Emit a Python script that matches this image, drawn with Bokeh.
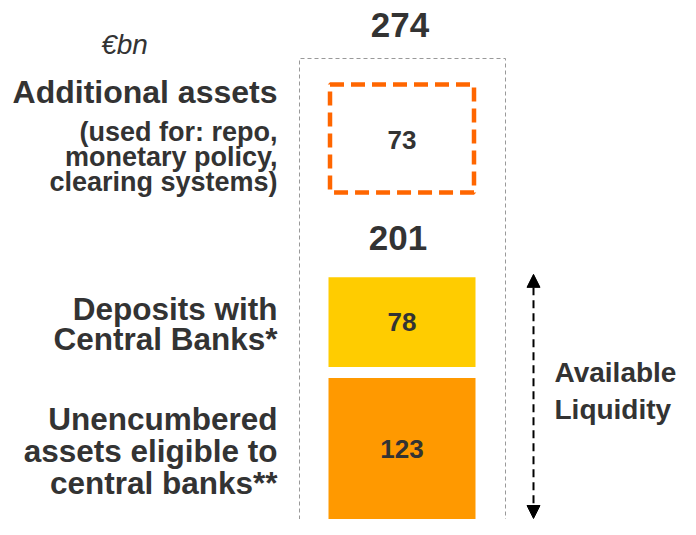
from bokeh.plotting import figure
from bokeh.models import Range1d, Arrow, NormalHead, ColumnDataSource
from bokeh.core.properties import value
from bokeh.embed import file_html
from bokeh.resources import INLINE

# ---- data (EUR bn) ----
segments = ["Unencumbered", "Deposits", "Additional"]
seg_values = [123, 78, 73]
seg_colors = ["#FF9900", "#FFCC00", None]
subtotal_available = 201
total = 274

unit_label = "€bn"
left_labels = [
    ["Additional assets"],
    ["(used for: repo,", "monetary policy,", "clearing systems)"],
    ["Deposits with", "Central Banks*"],
    ["Unencumbered", "assets eligible to", "central banks**"],
]
right_label = ["Available", "Liquidity"]

# ---- layout constants ----
W, H = 680, 519
K = 1.15            # px per EUR bn for liquidity bars
K_BOX = 1.48        # px per EUR bn for the dashed box
BASE = 0
GAP = 11
BAR_X = 401.5
BAR_W = 147
TXT = "#333333"
FONT = "Liberation Sans"

p = figure(width=W, height=H, output_backend="svg", toolbar_location=None,
           x_range=Range1d(0, W), y_range=Range1d(0, H),
           x_axis_type=None, y_axis_type=None, min_border=0)
p.grid.visible = False
p.outline_line_color = None
p.background_fill_color = "white"

def py(y):
    return H - y

# bars
b0 = BASE
t0 = b0 + seg_values[0] * K
b1 = t0 + GAP
t1 = b1 + seg_values[1] * K
src = ColumnDataSource(dict(x=[BAR_X, BAR_X], bottom=[b0, b1], top=[t0, t1],
                            color=seg_colors[:2]))
p.vbar(x="x", bottom="bottom", top="top", width=BAR_W, color="color", source=src,
       line_color=None)

# dashed box for additional assets
box_top = py(84)
box_bot = box_top - seg_values[2] * K_BOX
p.quad(left=BAR_X - 72, right=BAR_X + 72, bottom=box_bot, top=box_top,
       fill_color=None, line_color="#FF6600", line_width=4.5, line_dash="14 7")

# outer grey dashed frame
fx0, fx1, ftop = 299, 505, py(58)
p.line([fx0, fx0, fx1, fx1], [0, ftop, ftop, 0], line_color="#999999",
       line_width=1, line_dash="4 3")

# bar value labels
p.text(x=[BAR_X] * 3,
       y=[(b0 + t0) / 2, (b1 + t1) / 2, (box_top + box_bot) / 2 - 1],
       text=[str(v) for v in seg_values],
       text_align="center", text_baseline="middle", text_font=value(FONT),
       text_font_style="bold", text_font_size="26px", text_color=TXT)

# totals
p.text(x=[BAR_X - 2, BAR_X - 4], y=[py(24), py(237)],
       text=[str(total), str(subtotal_available)],
       text_align="center", text_baseline="middle", text_font=value(FONT),
       text_font_style="bold", text_font_size="35px", text_color=TXT)

# unit
p.text(x=[124], y=[py(44)], text=[unit_label], text_align="center",
       text_baseline="middle", text_font=value(FONT), text_font_style="italic",
       text_font_size="28px", text_color=TXT)

# left labels
left_y = [[91.5], [131, 156, 181], [308, 338], [418, 450, 482]]
left_sz = ["32px", "27px", "31.5px", "31.5px"]
for lines, ys, sz in zip(left_labels, left_y, left_sz):
    p.text(x=[277] * len(lines), y=[py(v) for v in ys], text=lines,
           text_align="right", text_baseline="middle", text_font=value(FONT),
           text_font_style="bold", text_font_size=sz, text_color=TXT)

# right label
p.text(x=[554, 554], y=[py(372), py(409)], text=right_label,
       text_align="left", text_baseline="middle", text_font=value(FONT),
       text_font_style="bold", text_font_size="28px", text_color=TXT)

# arrow
ax = 533
p.add_layout(Arrow(x_start=ax, y_start=t1 + 3, x_end=ax, y_end=b0 + 1,
                   line_color="black", line_width=2, line_dash="8 5",
                   start=NormalHead(size=13, fill_color="black", line_color="black", line_width=1),
                   end=NormalHead(size=13, fill_color="black", line_color="black", line_width=1)))

open("out.html", "w").write(file_html(p, INLINE))
